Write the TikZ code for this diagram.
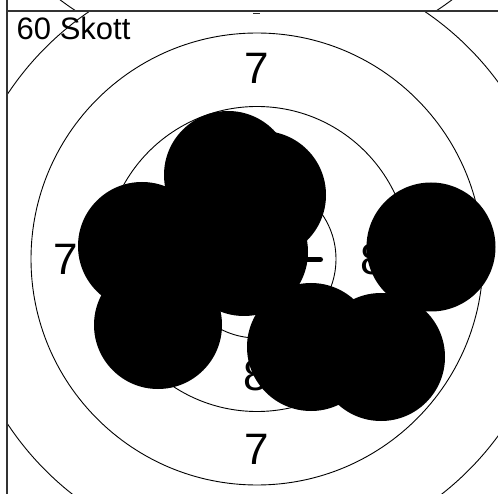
\documentclass[tikz,border=0pt]{standalone}
\usepackage{fontspec}
\setmainfont{Liberation Sans}
\begin{document}
\begin{tikzpicture}[x=1pt,y=-1pt,
  ring/.style={draw=black,line width=0.9pt},
  hole/.style={fill=black},
  lbl/.style={font=\fontsize{44}{44}\selectfont,inner sep=0pt},
  frame/.style={draw=black!80,line width=2pt}]
\useasboundingbox (0,0) rectangle (498,494);
\fill[white] (0,0) rectangle (498,494);
% strip above the frame
\begin{scope}
  \clip (7,0) rectangle (498,10);
  \draw[ring] (256,-262) circle[radius=327pt];
\end{scope}
% target
\begin{scope}
  \clip (7,11) rectangle (498,494);
  \coordinate (c) at (257,259);
  \draw[ring] (c) circle[radius=79pt];
  \draw[ring] (c) circle[radius=152.5pt];
  \draw[ring] (c) circle[radius=226pt];
  \draw[ring] (c) circle[radius=299pt];
  \draw[line width=1.4pt,draw=black!85] (253,13.3) -- (260,13.3);
  \node[lbl] (t7) at (257,68) {7};
  \node[lbl] (b7) at (257,449) {7};
  \node[lbl] (l7) at (66,259) {7};
  \node[lbl] (r8) at (373,259) {8};
  \node[lbl] (b8) at (256,375) {8};
  \node[font=\fontsize{31}{31}\selectfont,inner sep=0pt,anchor=base west] (title) at (16.5,40) {60 Skott};
  \draw[line width=5pt,line cap=round] (300,259.5) -- (320.5,259.5);
  \fill[hole] (228,175) circle[radius=64pt];
  \fill[hole] (262,195) circle[radius=64pt];
  \fill[hole] (142,246) circle[radius=64pt];
  \fill[hole] (158,325) circle[radius=64pt];
  \fill[hole] (244,252) circle[radius=64pt];
  \fill[hole] (311,347) circle[radius=64pt];
  \fill[hole] (381,357) circle[radius=64pt];
  \fill[hole] (431,247) circle[radius=64.5pt];
\end{scope}
\draw[frame] (7,0) -- (7,494);
\draw[frame] (6,11) -- (498,11);
\end{tikzpicture}
\end{document}
